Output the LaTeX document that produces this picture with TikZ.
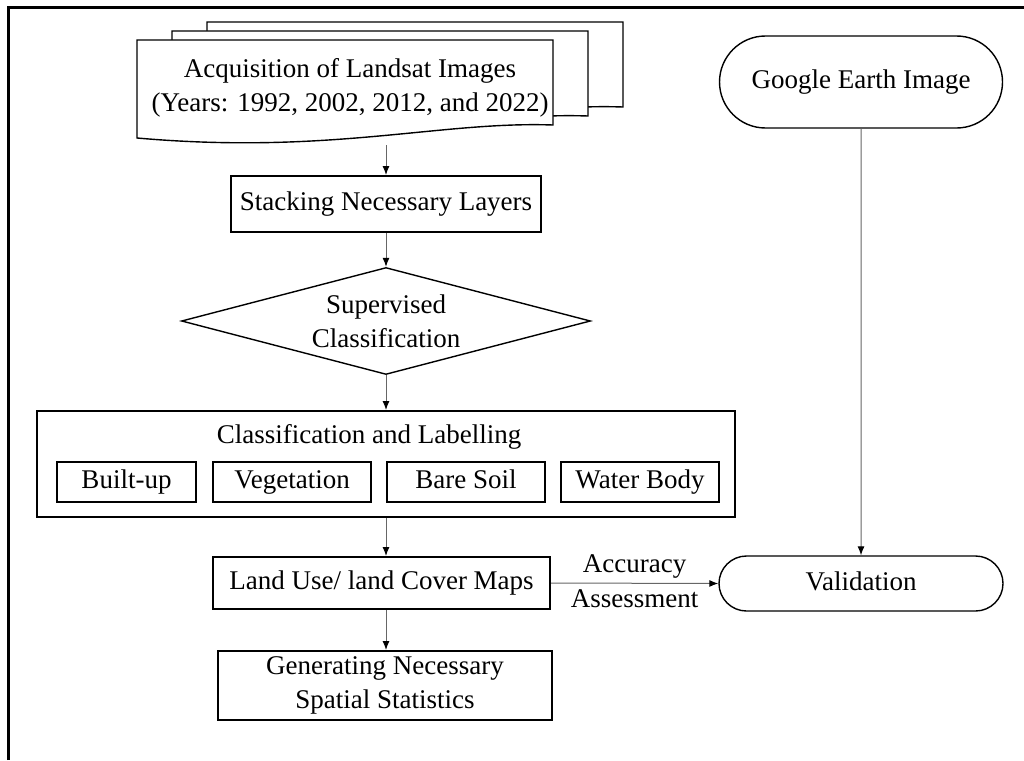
\documentclass[tikz,border=0pt]{standalone}
\usepackage{fontspec}
\setmainfont{Liberation Serif}
\usetikzlibrary{arrows.meta,shapes.geometric,shapes.misc}

\begin{document}
\begin{tikzpicture}[x=1pt,y=-1pt]
  \tikzstyle{TextStyle}=[font=\fontsize{27}{34}\selectfont,align=center,inner sep=0pt]
  \tikzstyle{OneLine}=[text height=19pt,text depth=6pt]
  \tikzstyle{BoxStyle}=[TextStyle,draw,line width=2pt,rectangle]
  \tikzstyle{ClassStyle}=[BoxStyle,OneLine,line width=1.4pt,minimum height=40,minimum width=158]
  \tikzstyle{TermStyle}=[TextStyle,OneLine,draw,line width=1.4pt,rounded rectangle]
  \tikzstyle{EdgeStyle}=[draw=black!60,line width=1pt,-{Latex[length=9pt,width=7pt,color=black]}]
  \useasboundingbox (0,0) rectangle (1024,760);
  % frame
  \draw[line width=3pt] (8,760) -- (8,8) -- (1024,8);
  % stack of landsat scenes
  \foreach \dx/\dy in {70/18,35/9,0/0}
    \draw[line width=1.4pt,fill=white] (137+\dx,40-\dy) -- (553+\dx,40-\dy) -- (553+\dx,125-\dy)
      .. controls (440+\dx,121-\dy) and (330+\dx,155-\dy) .. (137+\dx,138-\dy) -- cycle;
  \node[TextStyle] (acq) at (350,88) {Acquisition of Landsat Images\\(Years: 1992, 2002, 2012, and 2022)};
  \coordinate (acqout) at (386,145);
  \node[BoxStyle,OneLine,minimum width=310,minimum height=56] (stack) at (386,204) {Stacking Necessary Layers};
  \node[TextStyle,draw,line width=1.4pt,diamond,aspect=3.8,minimum width=409,minimum height=107] (super) at (386,321) {Supervised\\Classification};
  % classes
  \node[BoxStyle,minimum width=698,minimum height=106] (classes) at (386,464) {};
  \node[TextStyle,OneLine] (classtitle) at (369,437) {Classification and Labelling};
  \node[ClassStyle,minimum width=139] (built) at (126.5,482) {Built-up};
  \node[ClassStyle] (veg) at (292,482) {Vegetation};
  \node[ClassStyle] (soil) at (466,482) {Bare Soil};
  \node[ClassStyle] (water) at (640,482) {Water Body};
  \node[BoxStyle,OneLine,minimum width=337,minimum height=52] (lulc) at (381.5,583) {Land Use/ land Cover Maps};
  \node[BoxStyle,minimum width=334,minimum height=69] (stats) at (385,685.5) {Generating Necessary\\Spatial Statistics};
  % right column
  \node[TermStyle,minimum width=283,minimum height=92] (google) at (861,82) {Google Earth Image};
  \node[TermStyle,minimum width=284,minimum height=55] (valid) at (861,583.5) {Validation};
  % connectors
  \draw[EdgeStyle] (acqout) -- (stack);
  \draw[EdgeStyle] (stack) -- (super);
  \draw[EdgeStyle] (super) -- (classes);
  \draw[EdgeStyle] (classes.south) -- (classes.south |- lulc.north);
  \draw[EdgeStyle] (classes.south |- lulc.south) -- (classes.south |- stats.north);
  \draw[EdgeStyle] (google) -- (valid);
  \draw[EdgeStyle] (lulc.east) -- node[TextStyle,OneLine,above=4pt]{Accuracy} node[TextStyle,OneLine,below=5pt]{Assessment} (valid.west);
\end{tikzpicture}
\end{document}
